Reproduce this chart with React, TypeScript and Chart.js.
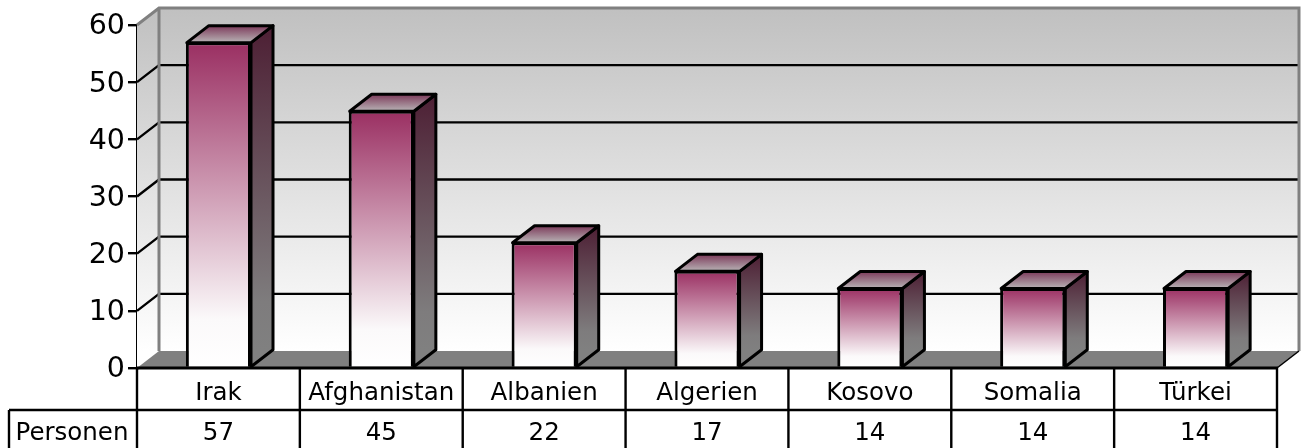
import React, { useEffect, useRef } from "react";
import { Chart, registerables } from "chart.js";

Chart.register(...registerables);

const categories = ["Irak", "Afghanistan", "Albanien", "Algerien", "Kosovo", "Somalia", "Türkei"];
const personen = [57, 45, 22, 17, 14, 14, 14];
const seriesName = "Personen";

const FONT = '"DejaVu Sans", Verdana, sans-serif';
const DX = 22;
const DY = 17;

function poly(ctx: CanvasRenderingContext2D, pts: number[][]) {
  ctx.beginPath();
  pts.forEach((p, i) => (i ? ctx.lineTo(p[0], p[1]) : ctx.moveTo(p[0], p[1])));
  ctx.closePath();
}

const scene3d = {
  id: "scene3d",
  beforeDatasetsDraw(chart: any) {
    const { ctx, scales } = chart;
    const x = scales.x;
    const y = scales.y;
    const l = x.left, r = x.right, t = y.top, b = y.bottom;
    ctx.save();
    const wall = ctx.createLinearGradient(0, t - DY, 0, b - DY);
    wall.addColorStop(0, "#c0c0c0");
    wall.addColorStop(1, "#ffffff");
    ctx.fillStyle = wall;
    ctx.fillRect(l + DX, t - DY, r - l, b - t);
    poly(ctx, [[l, t], [l + DX, t - DY], [l + DX, b - DY], [l, b]]);
    ctx.fill();
    // floor
    ctx.fillStyle = "#808080";
    poly(ctx, [[l, b], [l + DX, b - DY], [r + DX, b - DY], [r, b]]);
    ctx.fill();
    // grid lines
    ctx.strokeStyle = "#000";
    ctx.lineWidth = 2.4;
    y.ticks.forEach((tk: any) => {
      if (tk.value === 0 || tk.value === 60) return;
      const py = y.getPixelForValue(tk.value);
      ctx.beginPath();
      ctx.moveTo(l, py);
      ctx.lineTo(l + DX, py - DY);
      ctx.lineTo(r + DX - 1, py - DY);
      ctx.stroke();
    });
    // wall edges
    ctx.strokeStyle = "#808080";
    ctx.lineWidth = 3;
    ctx.beginPath();
    ctx.moveTo(l, t);
    ctx.lineTo(l + DX, t - DY);
    ctx.lineTo(r + DX, t - DY);
    ctx.lineTo(r + DX, b - DY);
    ctx.moveTo(l + DX, t - DY);
    ctx.lineTo(l + DX, b - DY);
    ctx.stroke();
    ctx.strokeStyle = "#000";
    ctx.lineWidth = 1.5;
    ctx.beginPath();
    ctx.moveTo(r, b);
    ctx.lineTo(r + DX, b - DY);
    ctx.stroke();
    ctx.restore();
  },
  afterDatasetsDraw(chart: any) {
    const { ctx, scales } = chart;
    const x = scales.x;
    const y = scales.y;
    const meta = chart.getDatasetMeta(0);
    ctx.save();
    ctx.strokeStyle = "#000";
    ctx.lineWidth = 3;
    ctx.lineJoin = "round";
    meta.data.forEach((bar: any) => {
      const hw = bar.width / 2;
      const x0 = bar.x - hw + 1, x1 = bar.x + hw, top = bar.y + 0.5, bot = bar.base;
      const side = ctx.createLinearGradient(0, top - DY, 0, bot - DY);
      side.addColorStop(0, "#4d1f34");
      side.addColorStop(0.85, "#7e7c7d");
      side.addColorStop(1, "#808080");
      ctx.fillStyle = side;
      poly(ctx, [[x1, top], [x1 + DX, top - DY], [x1 + DX, bot - DY], [x1, bot]]);
      ctx.fill();
      ctx.stroke();
      const cap = ctx.createLinearGradient(0, top - DY, 0, top);
      cap.addColorStop(0, "#7c3a5a");
      cap.addColorStop(1, "#b8b4b6");
      ctx.fillStyle = cap;
      poly(ctx, [[x0, top], [x0 + DX, top - DY], [x1 + DX, top - DY], [x1, top]]);
      ctx.fill();
      ctx.stroke();
    });
    // data table
    const l = x.left, r = x.right, b = y.bottom;
    const rowH = 42;
    const cw = (r - l) / categories.length;
    ctx.lineWidth = 2.4;
    ctx.beginPath();
    ctx.moveTo(9, b + rowH);
    ctx.lineTo(r, b + rowH);
    ctx.moveTo(9, b + rowH);
    ctx.lineTo(9, chart.height);
    for (let i = 0; i <= categories.length; i++) {
      ctx.moveTo(l + i * cw, b);
      ctx.lineTo(l + i * cw, chart.height);
    }
    ctx.stroke();
    ctx.lineWidth = 3;
    ctx.beginPath();
    ctx.moveTo(l - 1, b);
    ctx.lineTo(r + 1, b);
    ctx.stroke();
    ctx.fillStyle = "#000";
    ctx.textBaseline = "alphabetic";
    ctx.textAlign = "center";
    ctx.font = `24.5px ${FONT}`;
    personen.forEach((v, i) => ctx.fillText(String(v), x.getPixelForTick(i), b + rowH + 30));
    ctx.fillText(seriesName, (9 + l) / 2 - 1, b + rowH + 30);
    ctx.restore();
  },
};

export default function App() {
  const ref = useRef<HTMLCanvasElement>(null);
  useEffect(() => {
    const chart = new Chart(ref.current as HTMLCanvasElement, {
      type: "bar",
      data: {
        labels: categories,
        datasets: [
          {
            label: seriesName,
            data: personen,
            barPercentage: 0.4,
            categoryPercentage: 1,
            borderColor: "#000",
            borderWidth: 3,
            backgroundColor: (c: any) => {
              const { chart: ch, dataIndex } = c;
              const sy = ch.scales?.y;
              const y0 = sy ? sy.getPixelForValue(personen[dataIndex]) : NaN;
              const y1 = sy ? sy.getPixelForValue(0) : NaN;
              if (!Number.isFinite(y0) || !Number.isFinite(y1)) return "#9a2f62";
              const g = ch.ctx.createLinearGradient(0, y0, 0, y1);
              g.addColorStop(0, "#9a2f62");
              g.addColorStop(0.85, "#fbf9fa");
              g.addColorStop(1, "#ffffff");
              return g;
            },
          },
        ],
      },
      options: {
        responsive: false,
        animation: false,
        layout: { padding: { top: 25, right: 29, left: 0, bottom: 0 } },
        plugins: { legend: { display: false }, tooltip: { enabled: false } },
        scales: {
          x: {
            afterFit: (s: any) => { s.height = 80; },
            grid: { display: false },
            border: { display: false },
            ticks: { color: "#000", font: { family: FONT, size: 24.5 }, padding: 3, maxRotation: 0, autoSkip: false },
          },
          y: {
            min: 0,
            max: 60,
            afterFit: (s: any) => { s.width = 137; },
            grid: { drawOnChartArea: false, color: "#000", lineWidth: 2.4, tickLength: 9 },
            border: { color: "#000", width: 2.4 },
            ticks: { stepSize: 10, color: "#000", font: { family: FONT, size: 28.5 }, padding: 3, labelOffset: 2 },
          },
        },
      } as any,
      plugins: [scene3d as any],
    });
    return () => chart.destroy();
  }, []);
  return (
    <canvas
      ref={ref}
      width={1306}
      height={448}
      style={{ position: "absolute", left: 0, top: 0, display: "block", background: "#fff" }}
    />
  );
}
